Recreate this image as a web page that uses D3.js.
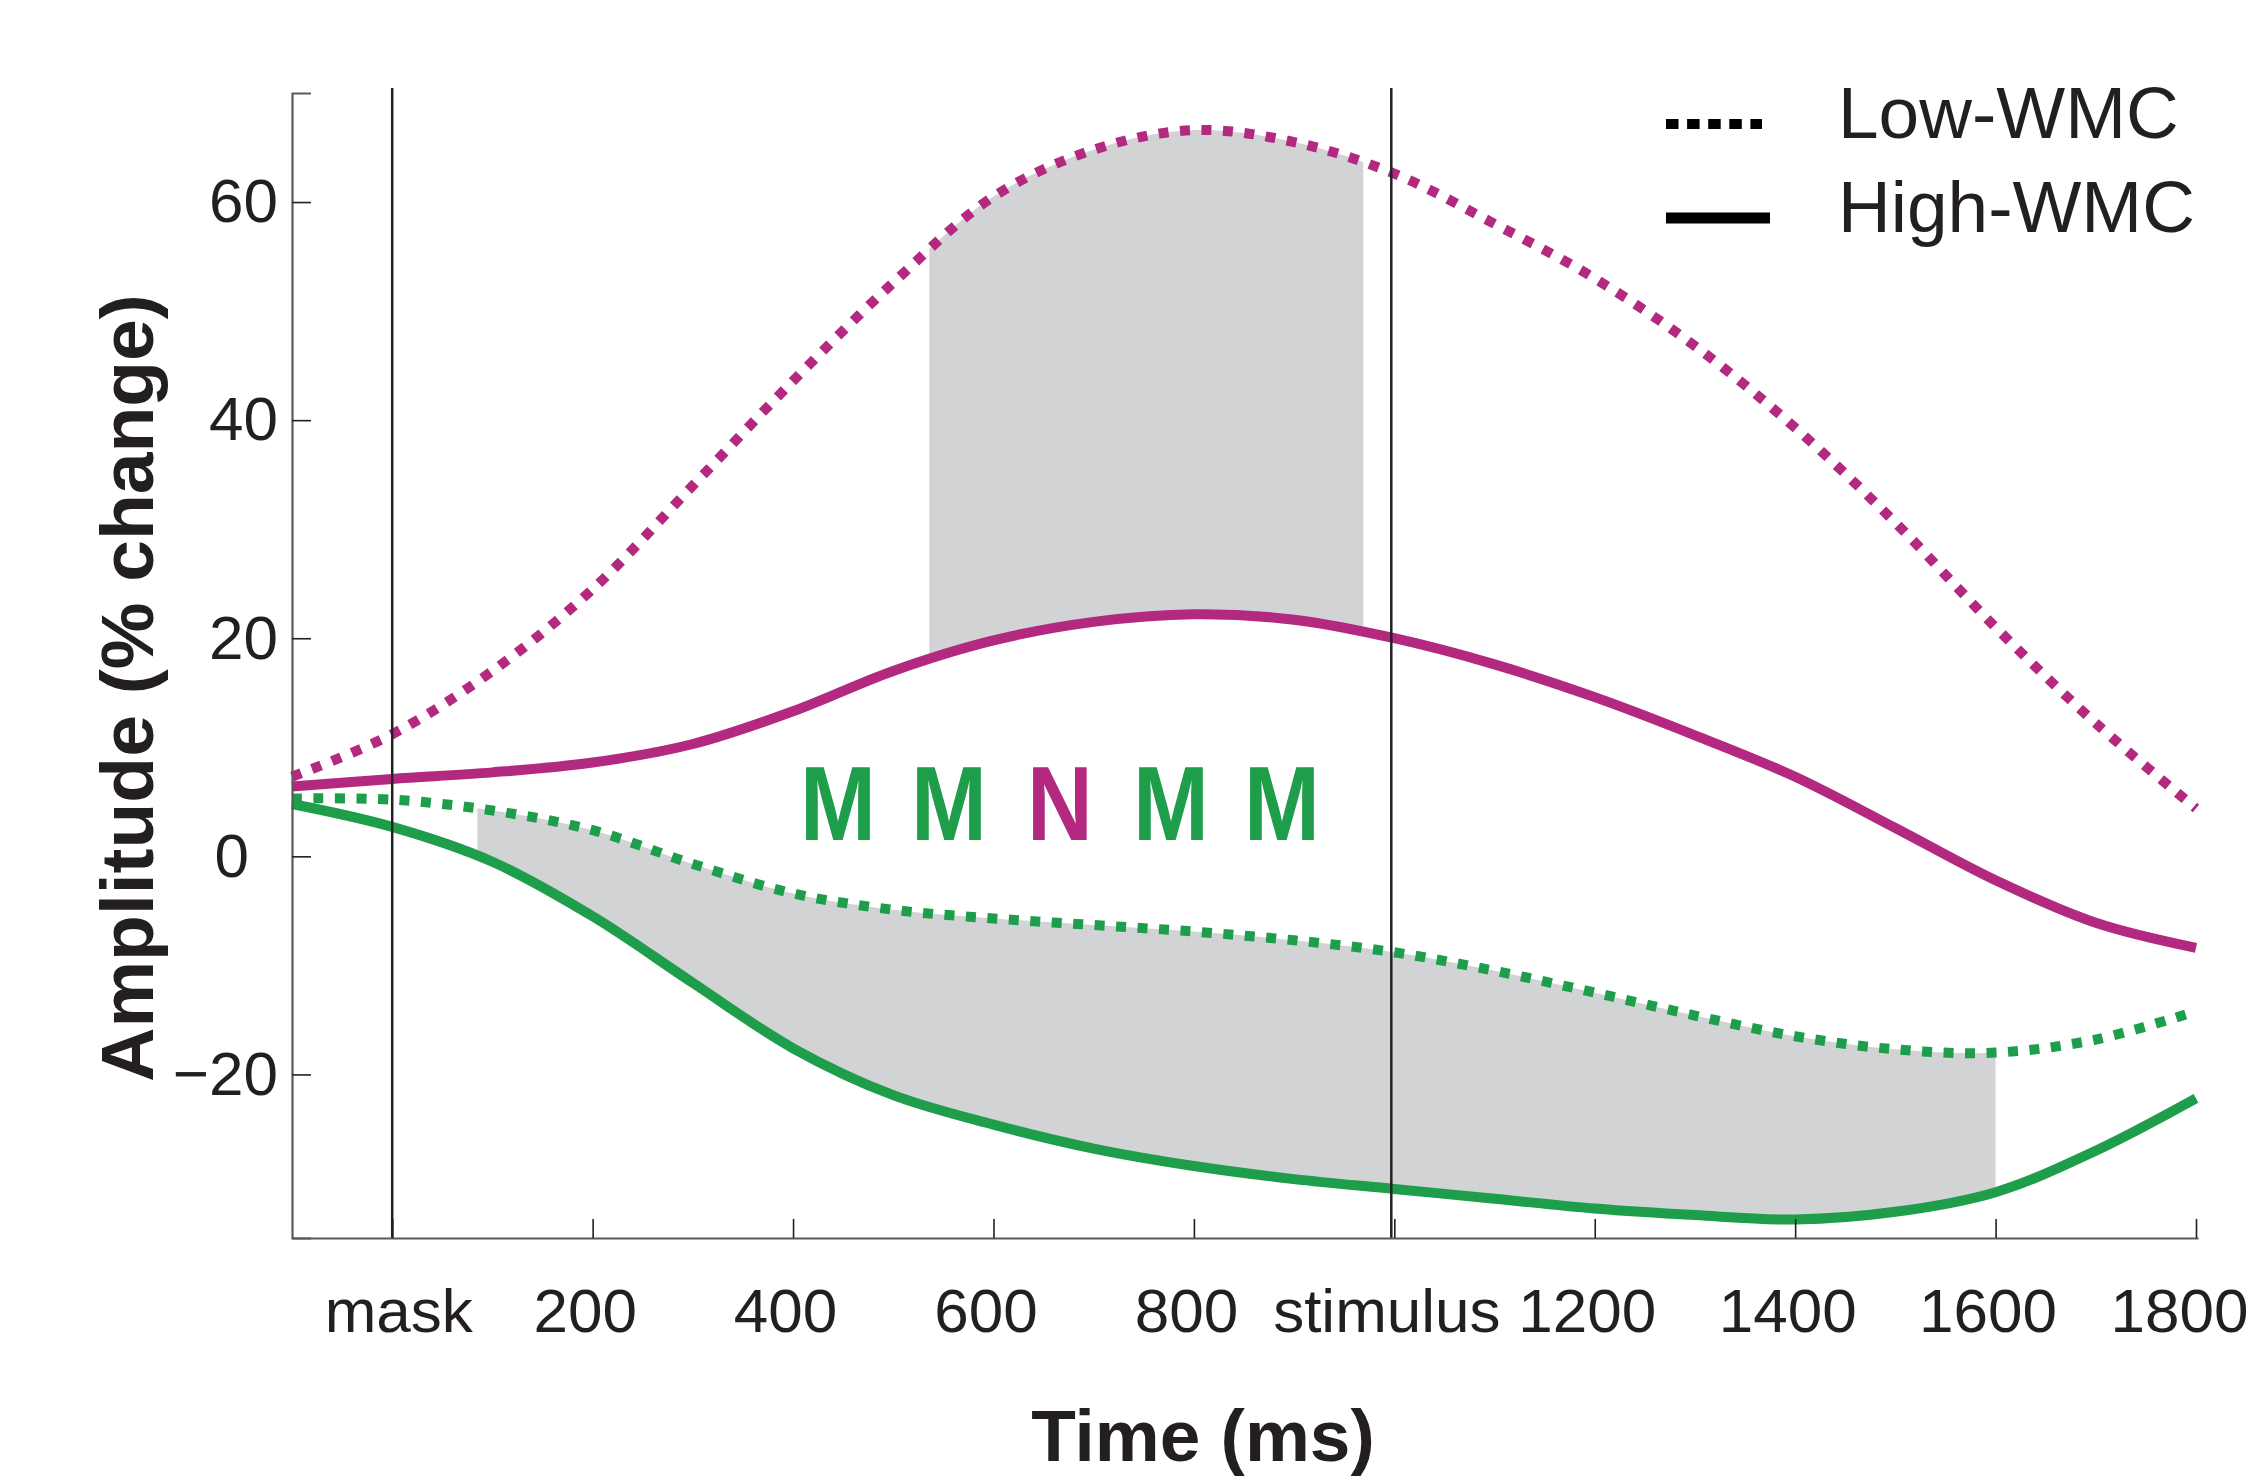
<!DOCTYPE html>
<html>
<head>
<meta charset="utf-8">
<script src="https://cdnjs.cloudflare.com/ajax/libs/d3/7.8.5/d3.min.js"></script>
<style>
  body { margin: 0; background: #fff; }
  svg text { font-family: "Liberation Sans", Arial, Helvetica, sans-serif; fill: #231f20; }
</style>
</head>
<body>
<script>
// Time points (ms), one every 100 ms
var times = [-100, 0, 100, 200, 300, 400, 500, 600, 700, 800, 900,
             1000, 1100, 1200, 1300, 1400, 1500, 1600, 1700, 1800];

// Amplitude (% change)
var magentaLow  = [7.3, 11.2, 17.0, 24.5, 34.0, 43.6, 52.6, 60.5, 64.8, 66.6, 65.5,
                   62.6, 58.0, 53.0, 46.8, 39.3, 30.6, 21.0, 12.2, 4.4];
var magentaHigh = [6.4, 7.1, 7.7, 8.6, 10.3, 13.3, 17.0, 19.8, 21.5, 22.2, 21.7,
                   20.0, 17.6, 14.6, 11.1, 7.3, 2.6, -2.2, -6.1, -8.4];
var greenLow    = [5.3, 5.2, 4.2, 2.4, -0.7, -3.4, -4.9, -5.7, -6.3, -6.9, -7.7,
                   -8.8, -10.5, -12.5, -14.6, -16.5, -17.7, -18.0, -16.8, -14.2];
var greenHigh   = [4.8, 2.7, -0.5, -5.5, -11.6, -17.6, -21.9, -24.6, -26.8, -28.4, -29.6,
                   -30.5, -31.4, -32.3, -32.9, -33.3, -32.6, -30.8, -27.0, -22.2];

// Significant windows (ms)
var shadeMagenta = [536, 969];
var shadeGreen = [85, 1600];

// Event onsets (ms): mask, stimulus
var events = [0, 997];

// Ticks
var xTicks = [0, 200, 400, 600, 800, 1000, 1200, 1400, 1600, 1800];
var xTickLabels = ["mask", "200", "400", "600", "800", "stimulus", "1200", "1400", "1600", "1800"];
var yTicks = [-20, 0, 20, 40, 60];

var legendLabels = ["Low-WMC", "High-WMC"];
var letters = ["M", "M", "N", "M", "M"];
var letterGroup = ["green", "green", "magenta", "green", "green"];

var colors = { magenta: "#b3297f", green: "#1e9d4a", shade: "#d1d3d4", ink: "#231f20" };

// Set the dimensions of the canvas / graph
var margin = { top: 93, right: 59, bottom: 238, left: 292 },
  width = 2257 - margin.left - margin.right,
  height = 1476 - margin.top - margin.bottom;

var x = d3.scaleLinear().domain([-100, 1802]).range([0, width]);
var y = d3.scaleLinear().domain([-35, 70]).range([height, 0]);

var rows = times.map(function(t, i) {
  return { t: t, mLow: magentaLow[i], mHigh: magentaHigh[i], gLow: greenLow[i], gHigh: greenHigh[i] };
});

var curve = d3.curveCatmullRom.alpha(0.5);

function line(key) {
  return d3.line().curve(curve)
    .x(function(d) { return x(d.t); })
    .y(function(d) { return y(d[key]); });
}

function band(lo, hi) {
  return d3.area().curve(curve)
    .x(function(d) { return x(d.t); })
    .y0(function(d) { return y(d[lo]); })
    .y1(function(d) { return y(d[hi]); });
}

var svgRoot = d3.select("body").append("svg")
  .attr("width", 2257)
  .attr("height", 1476);

var svg = svgRoot.append("g")
  .attr("transform", "translate(" + margin.left + "," + margin.top + ")");

var defs = svg.append("defs");

[["clipMagenta", shadeMagenta], ["clipGreen", shadeGreen]].forEach(function(c) {
  defs.append("clipPath").attr("id", c[0])
    .append("rect")
    .attr("x", x(c[1][0]))
    .attr("y", -20)
    .attr("width", x(c[1][1]) - x(c[1][0]))
    .attr("height", height + 40);
});

// Grey shading between conditions
svg.append("path")
  .attr("d", band("mHigh", "mLow")(rows))
  .attr("fill", colors.shade)
  .attr("clip-path", "url(#clipMagenta)");

svg.append("path")
  .attr("d", band("gHigh", "gLow")(rows))
  .attr("fill", colors.shade)
  .attr("clip-path", "url(#clipGreen)");

// The four curves
var series = [
  { key: "mLow", color: colors.magenta, dotted: true },
  { key: "mHigh", color: colors.magenta, dotted: false },
  { key: "gLow", color: colors.green, dotted: true },
  { key: "gHigh", color: colors.green, dotted: false }
];

series.forEach(function(s) {
  svg.append("path")
    .attr("d", line(s.key)(rows))
    .attr("fill", "none")
    .attr("stroke", s.color)
    .attr("stroke-width", 10)
    .attr("stroke-dasharray", s.dotted ? "10 11.5" : null);
});

// Mask / stimulus onset lines
svg.selectAll(".event")
  .data(events)
  .enter().append("line")
  .attr("class", "event")
  .attr("x1", function(d) { return x(d); })
  .attr("x2", function(d) { return x(d); })
  .attr("y1", -5)
  .attr("y2", height)
  .attr("stroke", "#222")
  .attr("stroke-width", 2.5);

// Axes
var xAxis = d3.axisBottom(x)
  .tickValues(xTicks)
  .tickFormat(function(d, i) { return xTickLabels[i]; })
  .tickSizeInner(-19)
  .tickSizeOuter(0)
  .tickPadding(50);

var yAxis = d3.axisLeft(y)
  .tickValues(yTicks)
  .tickFormat(function(d) { return d < 0 ? "\u2212" + Math.abs(d) : String(d); })
  .tickSizeInner(-19)
  .tickSizeOuter(-19)
  .tickPadding(14);

var gx = svg.append("g")
  .attr("transform", "translate(0," + height + ")")
  .call(xAxis);

var gy = svg.append("g").call(yAxis);

[gx, gy].forEach(function(g) {
  g.attr("font-size", null).attr("font-family", null);
  g.select(".domain").attr("stroke", "#5a5a5a").attr("stroke-width", 2.2);
  g.selectAll(".tick line").attr("stroke", colors.ink).attr("stroke-width", 1.6);
  g.selectAll(".tick text").style("font-size", "62px");
});

// x labels sit a little left of their ticks; last one ends at the page edge
gx.selectAll(".tick text")
  .attr("dx", function(d) { return d === 0 ? 6 : (d === 1800 ? 52 : -8); })
  .attr("text-anchor", function(d) { return d === 1800 ? "end" : "middle"; });

// zero label sits closer to the number column centre
gy.selectAll(".tick text").filter(function(d) { return d === 0; }).attr("x", -43);

// Axis titles
svgRoot.append("text")
  .attr("transform", "translate(153,688) rotate(-90)")
  .attr("text-anchor", "middle")
  .style("font-size", "75px")
  .style("font-weight", "bold")
  .text("Amplitude (% change)");

svgRoot.append("text")
  .attr("x", 1203)
  .attr("y", 1461)
  .attr("text-anchor", "middle")
  .style("font-size", "73px")
  .style("font-weight", "bold")
  .text("Time (ms)");

// Legend
var legend = svgRoot.append("g").attr("transform", "translate(1666,0)");

legendLabels.forEach(function(label, i) {
  var ly = 124 + i * 94;
  legend.append("line")
    .attr("x1", 0).attr("x2", i === 0 ? 96 : 104)
    .attr("y1", ly).attr("y2", ly)
    .attr("stroke", "#000")
    .attr("stroke-width", i === 0 ? 10 : 11)
    .attr("stroke-dasharray", i === 0 ? "12.5 8.6" : null);
  legend.append("text")
    .attr("x", 172)
    .attr("y", ly + 14)
    .style("font-size", "73px")
    .text(label);
});

// Letter row inside the plot
var letterRow = svgRoot.append("g").attr("transform", "translate(838,840)");

letterRow.selectAll("text")
  .data(letters)
  .enter().append("text")
  .attr("transform", function(d, i) { return "translate(" + (i * 111) + ",0) scale(0.86,1)"; })
  .attr("text-anchor", "middle")
  .style("font-size", "106px")
  .style("font-weight", "bold")
  .style("fill", function(d, i) { return colors[letterGroup[i]]; })
  .text(function(d) { return d; });
</script>
</body>
</html>
